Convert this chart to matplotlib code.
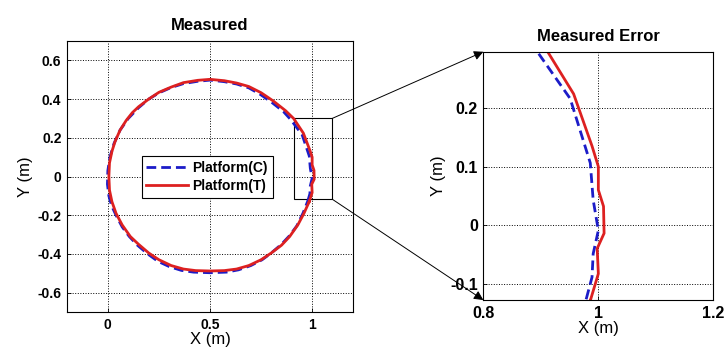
import numpy as np
import matplotlib
matplotlib.use('Agg')
import matplotlib.pyplot as plt
from matplotlib.patches import Rectangle, ConnectionPatch

plt.rcParams['font.family'] = ['Liberation Sans', 'DejaVu Sans']

# Platform(T), red solid (counter-clockwise from lower right)
t_x = [0.986, 1.000, 0.998, 1.010, 1.009, 1.000, 1.000, 0.989, 0.957, 0.910,
       0.870, 0.810, 0.750, 0.690, 0.630, 0.570, 0.500, 0.440, 0.370, 0.310,
       0.250, 0.200, 0.150, 0.120, 0.090, 0.060, 0.035, 0.020, 0.008, 0.005,
       0.008, 0.020, 0.040, 0.070, 0.110, 0.150, 0.200, 0.250, 0.310, 0.370,
       0.430, 0.500, 0.570, 0.630, 0.690, 0.750, 0.800, 0.850, 0.890, 0.930,
       0.960, 0.986]
t_y = [-0.129, -0.083, -0.040, -0.014, 0.032, 0.060, 0.100, 0.135, 0.224, 0.299,
       0.340, 0.390, 0.433, 0.465, 0.483, 0.495, 0.502, 0.497, 0.485, 0.462,
       0.435, 0.400, 0.360, 0.330, 0.290, 0.240, 0.180, 0.130, 0.070, 0.000,
       -0.070, -0.130, -0.190, -0.250, -0.310, -0.350, -0.395, -0.430, -0.460, -0.478,
       -0.486, -0.488, -0.486, -0.478, -0.460, -0.430, -0.395, -0.355, -0.310, -0.250,
       -0.190, -0.129]

# Platform(C), blue dashed
c_x = [0.979, 0.989, 0.991, 1.000, 0.991, 0.986, 0.951, 0.896,
       0.860, 0.800, 0.745, 0.690, 0.630, 0.570, 0.500, 0.440, 0.370, 0.310,
       0.250, 0.200, 0.150, 0.100, 0.060, 0.030, 0.010, 0.000, -0.002, 0.005,
       0.018, 0.040, 0.070, 0.105, 0.145, 0.195, 0.245, 0.300, 0.360, 0.420,
       0.500, 0.580, 0.640, 0.700, 0.755, 0.800, 0.850, 0.890, 0.925, 0.955,
       0.979]
c_y = [-0.126, -0.089, -0.049, -0.009, 0.043, 0.106, 0.216, 0.293,
       0.335, 0.385, 0.425, 0.458, 0.478, 0.490, 0.498, 0.492, 0.480, 0.460,
       0.432, 0.400, 0.355, 0.300, 0.240, 0.170, 0.100, 0.030, -0.040, -0.100,
       -0.150, -0.200, -0.260, -0.310, -0.355, -0.400, -0.438, -0.465, -0.485, -0.494,
       -0.497, -0.494, -0.482, -0.460, -0.430, -0.395, -0.350, -0.305, -0.255, -0.190,
       -0.126]

blue = '#1c1cc8'
red = '#dd2020'

fig = plt.figure(figsize=(7.25, 3.53), dpi=100)
ax1 = fig.add_axes([0.0924, 0.1161, 0.3945, 0.7677])
ax2 = fig.add_axes([0.6667, 0.150, 0.3172, 0.7034])

for ax, tsize in ((ax1, 10), (ax2, 11.5)):
    ax.plot(c_x, c_y, '--', color=blue, lw=2.0, dashes=(3.5, 1.8), label='Platform(C)')
    ax.plot(t_x, t_y, '-', color=red, lw=2.0, label='Platform(T)')
    ax.grid(True, linestyle=':', color='black', lw=0.7)
    ax.tick_params(direction='in', length=3, labelsize=tsize, width=0.6, pad=4)
    for sp in ax.spines.values():
        sp.set_linewidth(0.8)

ax1.set_xlim(-0.2, 1.2)
ax1.set_ylim(-0.7, 0.7)
ax1.set_xticks([0, 0.5, 1])
ax1.set_xticklabels(['0', '0.5', '1'], fontweight='bold')
ax1.set_yticks([-0.6, -0.4, -0.2, 0, 0.2, 0.4, 0.6])
ax1.set_yticklabels(['-0.6', '-0.4', '-0.2', '0', '0.2', '0.4', '0.6'], fontweight='bold')
ax1.set_xlabel('X (m)', fontsize=12, labelpad=0)
ax1.set_ylabel('Y (m)', fontsize=12, labelpad=3)
ax1.set_title('Measured', fontsize=12, fontweight='bold', pad=8)
leg = ax1.legend(loc='center', bbox_to_anchor=(0.49, 0.498), fancybox=False,
                 edgecolor='black', framealpha=1, handlelength=3.0,
                 prop={'weight': 'bold', 'size': 10}, borderpad=0.35,
                 labelspacing=0.25, handletextpad=0.3)
leg.get_frame().set_linewidth(0.8)

ax2.set_xlim(0.8, 1.2)
ax2.set_ylim(-0.128, 0.296)
ax2.set_xticks([0.8, 1, 1.2])
ax2.set_xticklabels(['0.8', '1', '1.2'], fontweight='bold')
ax2.set_yticks([-0.1, 0, 0.1, 0.2])
ax2.set_yticklabels(['-0.1', '0', '0.1', '0.2'], fontweight='bold')
ax2.set_xlabel('X (m)', fontsize=12, labelpad=0)
ax2.set_ylabel('Y (m)', fontsize=12, labelpad=3)
ax2.set_title('Measured Error', fontsize=12, fontweight='bold', pad=8)

# zoom box and arrows
rect = Rectangle((0.913, -0.117), 0.185, 0.417, fill=False, edgecolor='black', lw=0.8)
ax1.add_patch(rect)
for y1, y2 in [(0.300, 0.296), (-0.117, -0.128)]:
    con = ConnectionPatch(xyA=(1.098, y1), coordsA=ax1.transData,
                          xyB=(0.8, y2), coordsB=ax2.transData,
                          arrowstyle='-|>', mutation_scale=14, lw=0.7,
                          color='black', shrinkA=0, shrinkB=0)
    fig.add_artist(con)

fig.savefig('out.png', dpi=100)
